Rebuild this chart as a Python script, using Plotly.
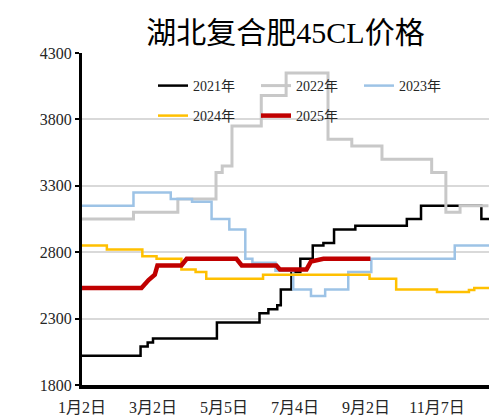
import plotly.graph_objects as go

# ---- data (x = trading-day index, y = price) ----
x_2021 = [0, 33, 37, 40, 76, 100, 105, 110, 112, 118, 123, 130, 136, 142, 154, 183, 191, 225, 229.3]
y_2021 = [2020, 2090, 2120, 2150, 2270, 2340, 2370, 2400, 2520, 2650, 2750, 2850, 2870, 2970, 3000, 3050, 3150, 3050, 3050]

x_2022 = [0, 29, 54, 75.5, 79, 84.5, 101, 115, 138.6, 152, 169, 197, 205, 213, 229]
y_2022 = [3050, 3100, 3200, 3400, 3450, 3750, 3980, 4150, 3650, 3600, 3500, 3400, 3100, 3150, 3150]

x_2023 = [0, 29, 50, 62, 73, 83, 92, 96, 109, 119, 129, 137, 150, 163, 210, 229.3]
y_2023 = [3150, 3250, 3200, 3180, 3050, 2970, 2750, 2720, 2660, 2520, 2470, 2520, 2650, 2750, 2850, 2850]

x_2024 = [0, 14, 34, 42, 56, 64, 70, 102, 162, 177, 200, 218, 221, 229.3]
y_2024 = [2850, 2820, 2770, 2750, 2670, 2650, 2600, 2630, 2600, 2520, 2500, 2515, 2530, 2530]

x_2025 = [0, 33.5, 37.5, 41, 42.5, 56, 59, 87, 90, 109.5, 111.5, 126.5, 129, 136, 162.5]
y_2025 = [2530, 2530, 2590, 2630, 2700, 2700, 2750, 2750, 2700, 2700, 2670, 2670, 2730, 2750, 2750]

tick_pos = [0, 40, 80, 120, 160, 200]
tick_text = ["1月2日", "3月2日", "5月5日", "7月4日", "9月2日", "11月7日"]
y_ticks = [1800, 2300, 2800, 3300, 3800, 4300]

FONT = "Liberation Serif, Noto Sans CJK SC, serif"
W, H = 489, 415

fig = go.Figure()
fig.add_trace(go.Scatter(x=x_2021, y=y_2021, name="2021年", mode="lines",
                         line=dict(color="#000000", width=2.5, shape="hv"), legend="legend"))
fig.add_trace(go.Scatter(x=x_2022, y=y_2022, name="2022年", mode="lines",
                         line=dict(color="#c8c8c8", width=3, shape="hv"), legend="legend"))
fig.add_trace(go.Scatter(x=x_2023, y=y_2023, name="2023年", mode="lines",
                         line=dict(color="#9dc3e6", width=2.5, shape="hv"), legend="legend"))
fig.add_trace(go.Scatter(x=x_2024, y=y_2024, name="2024年", mode="lines",
                         line=dict(color="#ffc000", width=2.5, shape="hv"), legend="legend2"))
fig.add_trace(go.Scatter(x=x_2025, y=y_2025, name="2025年", mode="lines",
                         line=dict(color="#c00000", width=4.5), legend="legend2"))

legend_common = dict(orientation="h", xanchor="left", yanchor="middle",
                     xref="container", yref="container",
                     bgcolor="rgba(0,0,0,0)", font=dict(family=FONT, size=14, color="#262626"),
                     entrywidth=58, entrywidthmode="pixels", tracegroupgap=0)

fig.update_layout(
    width=W, height=H,
    margin=dict(l=82, r=0, t=52.5, b=30, autoexpand=False),
    paper_bgcolor="white", plot_bgcolor="white",
    title=dict(text="湖北复合肥45CL价格", x=0.5, xref="paper", xanchor="center",
               y=1 - 32.5 / H, yref="container", yanchor="middle",
               font=dict(family=FONT, size=30, color="#000000")),
    legend=dict(x=153 / W, y=1 - 86 / H, **legend_common),
    legend2=dict(x=153 / W, y=1 - 116 / H, **legend_common),
    xaxis=dict(range=[0, 229.3], tickmode="array", tickvals=tick_pos, ticktext=tick_text,
               showgrid=False, showline=True, linecolor="#000000", linewidth=4,
               ticks="", ticklabelstandoff=5, zeroline=False,
               tickfont=dict(family=FONT, size=16, color="#262626")),
    yaxis=dict(range=[1800, 4300], tickmode="array", tickvals=y_ticks,
               showgrid=True, gridcolor="#d9d9d9", gridwidth=2,
               showline=True, linecolor="#000000", linewidth=3,
               ticks="outside", ticklen=4, tickwidth=2, tickcolor="#000000",
               zeroline=False,
               tickfont=dict(family=FONT, size=16, color="#262626")),
    showlegend=True,
)

fig.write_html("out.html",
               config={"displayModeBar": False},
               post_script="document.body.style.margin='0';document.body.style.padding='0';")
